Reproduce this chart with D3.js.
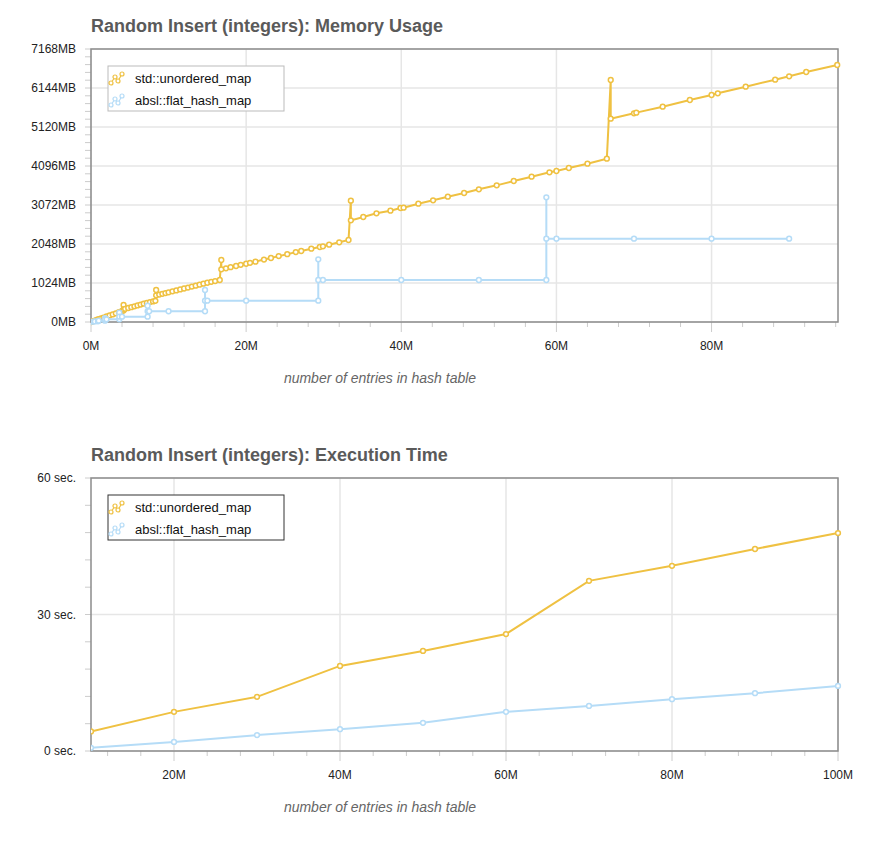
<!DOCTYPE html>
<html><head><meta charset="utf-8">
<script src="https://cdn.jsdelivr.net/npm/d3@7/dist/d3.min.js"></script>
<style>
body{margin:0;background:#fff;font-family:"Liberation Sans",Arial,sans-serif;}
</style></head>
<body><svg width="876" height="866"></svg>
<script>
var seriesNames = ['std::unordered_map', 'absl::flat_hash_map'];
var colors = ['#efc142', '#b5dcf7'];

// memory chart: [million entries, MB]
var memStd = [[0,0],[0.05,5],[0.2,15],[0.4,30],[0.6,45],[0.8,60],[1.0,75],[1.3,95],[1.6,115],[2.0,145],[2.4,172],[2.8,200],[3.2,228],[3.6,258],[4.0,290],[4.2,300],
  [4.2,446],[4.2,330],[4.4,345],[4.8,368],[5.2,390],[5.6,412],[6.0,435],[6.4,458],[6.8,480],[7.2,500],[7.6,522],[8.0,540],[8.3,555],
  [8.4,840],[8.4,700],[8.8,720],[9.2,740],[9.6,760],[10.0,780],[10.5,805],[11.0,830],[11.5,855],[12.0,880],[12.5,905],[13.0,930],[13.5,955],[14.0,980],[14.5,1005],[15.0,1030],[15.5,1055],[16.0,1075],[16.6,1103],
  [16.8,1628],[16.8,1383],[17.4,1410],[18.0,1440],[18.7,1470],[19.3,1500],[20.0,1530],[20.5,1555],[21.2,1585],[22.3,1640],[23.2,1680],[24.2,1730],[25.3,1780],[26.4,1835],[27.1,1864],[28.4,1925],[29.5,1969],[29.9,1987],[30.7,2030],[32.0,2092],[33.2,2153],
  [33.5,3186],[33.5,2669],[35.1,2757],[36.8,2853],[38.6,2923],[39.9,2993],[40.3,3002],[42.2,3107],[44.1,3195],[46.0,3291],[48.1,3387],[50.0,3483],[52.3,3588],[54.5,3702],[56.8,3816],[59.1,3930],[60.0,3965],[61.6,4044],[64.0,4157],[66.5,4289],
  [67.0,6354],[67.0,5339],[70.0,5479],[70.3,5497],[73.7,5654],[77.2,5829],[80.0,5960],[80.8,6004],[84.4,6179],[88.2,6363],[90.0,6451],[92.2,6564],[96.2,6748]];
var memAbsl = [[0,5],[0.3,10],[0.5,15],[0.9,20],[1.0,35],[1.8,35],[1.8,100],[1.8,70],[2.0,70],[3.65,70],[3.65,245],[3.65,140],[4.0,140],[7.3,140],
  [7.3,427],[7.3,282],[7.5,282],[10.0,282],[14.7,282],[14.7,840],[14.7,560],[15.0,560],[20.0,560],[29.3,560],
  [29.3,1645],[29.3,1103],[29.9,1103],[40.0,1103],[50.0,1103],[58.7,1103],[58.7,3274],[58.7,2188],[60.0,2188],[70.0,2188],[80.0,2188],[90.0,2188]];

// execution time chart: [million entries, seconds]
var timeX = [10,20,30,40,50,60,70,80,90,100];
var timeStd = [4.3,8.6,11.9,18.7,22.0,25.7,37.4,40.7,44.4,47.9];
var timeAbsl = [0.7,2.0,3.5,4.8,6.2,8.6,9.9,11.4,12.7,14.3];

var memTicks = [0,1024,2048,3072,4096,5120,6144,7168];
var timeTicks = [0,30,60];

var svg = d3.select('svg');

function drawChart(o) {
    var g = svg.append('g');
    var x = d3.scaleLinear().domain(o.xDomain).range([o.left, o.right]);
    var y = d3.scaleLinear().domain(o.yDomain).range([o.bottom, o.top]);

    g.append('text').attr('x', o.left).attr('y', o.top - 17)
        .attr('font-size', 18).attr('font-weight', 'bold').attr('fill', '#5a5a5a').text(o.title);

    // grid
    g.selectAll('.vg').data(o.xLabels).enter().append('line')
        .attr('x1', d => x(d)).attr('x2', d => x(d)).attr('y1', o.top).attr('y2', o.bottom)
        .attr('stroke', '#e6e6e6').attr('stroke-width', 1.5);
    g.selectAll('.hg').data(o.yLabels).enter().append('line')
        .attr('y1', d => y(d)).attr('y2', d => y(d)).attr('x1', o.left).attr('x2', o.right)
        .attr('stroke', '#e6e6e6').attr('stroke-width', 1.5);

    // minor ticks
    g.selectAll('.xt').data(o.xMinor).enter().append('line')
        .attr('x1', d => x(d)).attr('x2', d => x(d)).attr('y1', o.bottom).attr('y2', d => o.xLabels.indexOf(d) >= 0 ? o.bottom + 10 : o.bottom + 5)
        .attr('stroke', '#ccc');
    g.selectAll('.yt').data(o.yMinor).enter().append('line')
        .attr('y1', d => y(d)).attr('y2', d => y(d)).attr('x1', o.left - 6).attr('x2', o.left)
        .attr('stroke', '#ccc');

    g.append('rect').attr('x', o.left).attr('y', o.top).attr('width', o.right - o.left).attr('height', o.bottom - o.top)
        .attr('fill', 'none').attr('stroke', '#8c8c8c').attr('stroke-width', 1.5);

    g.selectAll('.xl').data(o.xLabels).enter().append('text')
        .attr('x', d => x(d)).attr('y', o.bottom + 28).attr('text-anchor', 'middle')
        .attr('font-size', 12).attr('fill', '#222').text(o.xFmt);
    g.selectAll('.yl').data(o.yLabels).enter().append('text')
        .attr('x', o.left - 15).attr('y', d => y(d) + 4).attr('text-anchor', 'end')
        .attr('font-size', 12).attr('fill', '#222').text(o.yFmt);

    g.append('text').attr('x', 380).attr('y', o.bottom + 61).attr('text-anchor', 'middle')
        .attr('font-size', 14).attr('font-style', 'italic').attr('fill', '#666')
        .text('number of entries in hash table');

    var clip = 'clip' + o.id;
    g.append('clipPath').attr('id', clip).append('rect')
        .attr('x', o.left).attr('y', o.top - 5).attr('width', o.right - o.left + 5).attr('height', o.bottom - o.top + 10);

    var line = d3.line().x(d => x(d[0])).y(d => y(d[1]));
    o.series.forEach(function (s, i) {
        var sg = g.append('g').attr('clip-path', 'url(#' + clip + ')');
        sg.append('path').datum(s).attr('d', line).attr('fill', 'none')
            .attr('stroke', colors[i]).attr('stroke-width', 2);
        sg.selectAll('circle').data(s).enter().append('circle')
            .attr('cx', d => x(d[0])).attr('cy', d => y(d[1])).attr('r', 2.4)
            .attr('fill', '#fff').attr('stroke', colors[i]).attr('stroke-width', 1.5);
    });

    // legend
    var lg = g.append('g').attr('transform', 'translate(' + (o.left + 17) + ',' + (o.top + 17) + ')');
    lg.append('rect').attr('width', 176).attr('height', 45).attr('fill', '#fff')
        .attr('stroke', o.legendStroke).attr('stroke-width', 1);
    seriesNames.forEach(function (n, i) {
        var ly = 12 + i * 22;
        var pts = [[3, ly + 5], [7, ly - 1], [10, ly + 3], [14, ly - 4]];
        lg.append('path').attr('d', d3.line()(pts)).attr('fill', 'none').attr('stroke', colors[i]).attr('stroke-width', 1.2);
        lg.selectAll('.lc' + i).data(pts).enter().append('circle')
            .attr('cx', d => d[0]).attr('cy', d => d[1]).attr('r', 2)
            .attr('fill', '#fff').attr('stroke', colors[i]).attr('stroke-width', 1.2);
        lg.append('text').attr('x', 27).attr('y', ly + 5).attr('font-size', 13).attr('fill', '#111').text(n);
    });
}

drawChart({
    id: 1, title: 'Random Insert (integers): Memory Usage',
    left: 91, right: 838, top: 49, bottom: 322,
    xDomain: [0, 96.3], yDomain: [0, 7168],
    xLabels: [0, 20, 40, 60, 80], xMinor: d3.range(0, 97, 4),
    yLabels: memTicks, yMinor: d3.range(0, 7169, 204.8),
    xFmt: d => d + 'M', yFmt: d => d + 'MB',
    legendStroke: '#bbb',
    series: [memStd, memAbsl]
});

drawChart({
    id: 2, title: 'Random Insert (integers): Execution Time',
    left: 91, right: 838, top: 478, bottom: 751,
    xDomain: [10, 100], yDomain: [0, 60],
    xLabels: [20, 40, 60, 80, 100], xMinor: d3.range(12, 101, 4),
    yLabels: timeTicks, yMinor: d3.range(0, 61, 6),
    xFmt: d => d + 'M', yFmt: d => d + ' sec.',
    legendStroke: '#333',
    series: [timeX.map((v, i) => [v, timeStd[i]]), timeX.map((v, i) => [v, timeAbsl[i]])]
});
</script></body></html>
